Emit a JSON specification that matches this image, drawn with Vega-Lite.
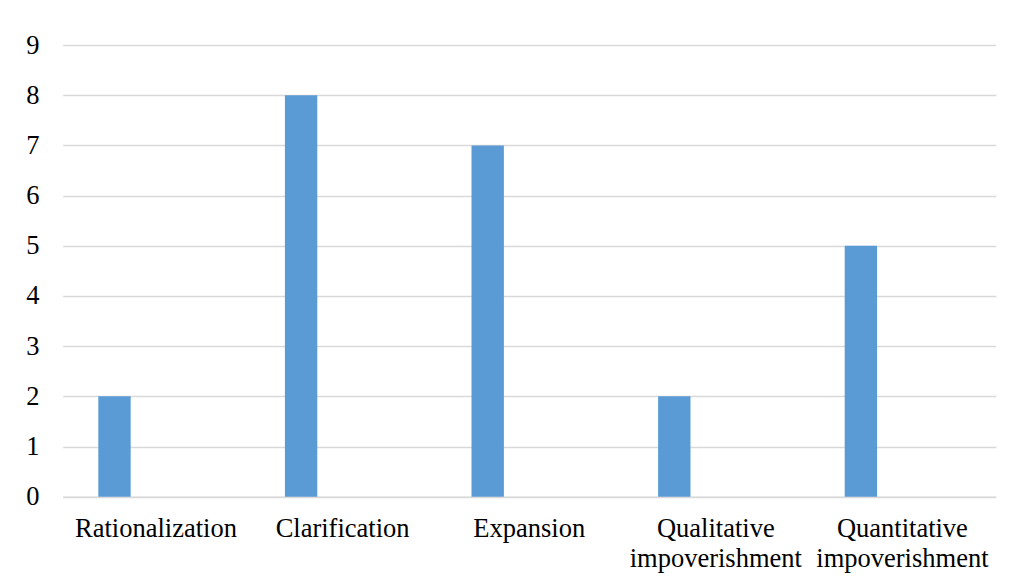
{
  "$schema": "https://vega.github.io/schema/vega-lite/v6.json",
  "width": 933,
  "height": 451.7,
  "autosize": {"type": "none"},
  "padding": {"left": 62.7, "top": 45, "right": 15.3, "bottom": 83.3},
  "background": "white",
  "data": {
    "values": [
      {"category": "Rationalization", "series": "A", "value": 2},
      {"category": "Clarification", "series": "A", "value": 8},
      {"category": "Expansion", "series": "A", "value": 7},
      {"category": "Qualitative impoverishment", "series": "A", "value": 2},
      {"category": "Quantitative impoverishment", "series": "A", "value": 5}
    ]
  },
  "mark": {"type": "bar", "color": "#5B9BD5"},
  "encoding": {
    "x": {
      "field": "category",
      "type": "nominal",
      "sort": null,
      "scale": {"paddingInner": 0, "paddingOuter": 0},
      "axis": {
        "title": null,
        "labelAngle": 0,
        "labelFont": "'Liberation Serif', 'Times New Roman', serif",
        "labelFontSize": 26.5,
        "labelColor": "#000000",
        "labelBaseline": "alphabetic",
        "labelPadding": 40,
        "labelLineHeight": 30,
        "labelLimit": 0,
        "labelExpr": "split(datum.label, ' ')",
        "ticks": false,
        "tickSize": 0,
        "domainColor": "#D9D9D9",
        "domainWidth": 1.3,
        "grid": false
      }
    },
    "xOffset": {
      "field": "series",
      "type": "nominal",
      "scale": {"domain": ["A", "B"], "paddingInner": 0.61, "paddingOuter": 0.429}
    },
    "y": {
      "field": "value",
      "type": "quantitative",
      "scale": {"domain": [0, 9], "nice": false},
      "axis": {
        "title": null,
        "values": [0, 1, 2, 3, 4, 5, 6, 7, 8, 9],
        "labelFont": "'Liberation Serif', 'Times New Roman', serif",
        "labelFontSize": 26.5,
        "labelColor": "#000000",
        "labelPadding": 23.7,
        "ticks": false,
        "tickSize": 0,
        "domain": false,
        "grid": true,
        "gridColor": "#D9D9D9",
        "gridWidth": 1.3
      }
    }
  },
  "config": {"view": {"stroke": null}}
}
